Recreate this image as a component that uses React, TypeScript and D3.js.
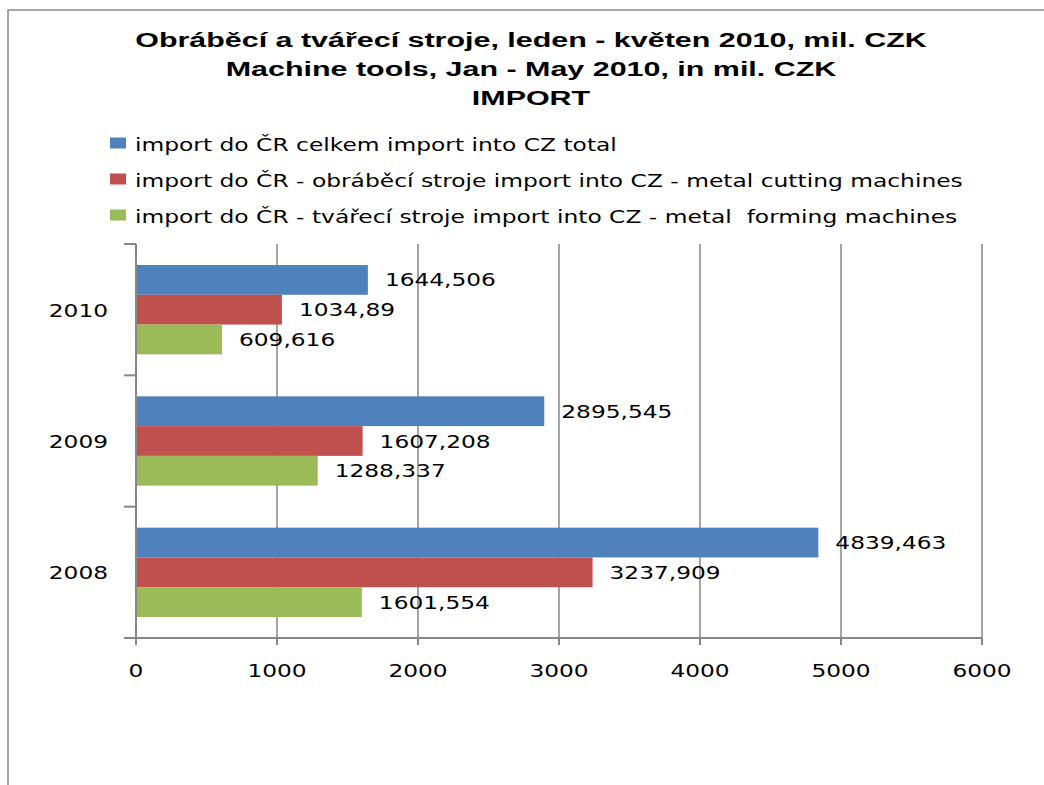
import React, { useEffect, useRef } from 'react';
import * as d3 from 'd3';

const categories = ['2010', '2009', '2008'];
const seriesNames = [
  'import do ČR celkem import into CZ total',
  'import do ČR - obráběcí stroje import into CZ - metal cutting machines',
  'import do ČR - tvářecí stroje import into CZ - metal  forming machines',
];
const seriesColors = ['#4F81BD', '#C0504D', '#9BBB59'];
// values per series, in category order (2010, 2009, 2008)
const totalImport = [1644.506, 2895.545, 4839.463];
const cuttingImport = [1034.89, 1607.208, 3237.909];
const formingImport = [609.616, 1288.337, 1601.554];
const seriesValues = [totalImport, cuttingImport, formingImport];
const xTicks = [0, 1000, 2000, 3000, 4000, 5000, 6000];
const titleLines = [
  'Obráběcí a tvářecí stroje, leden - květen 2010, mil. CZK',
  'Machine tools, Jan - May 2010, in mil. CZK',
  'IMPORT',
];

const fmt = (v: number) => String(v).replace('.', ',');

const App = () => {
  const ref = useRef<SVGSVGElement | null>(null);

  useEffect(() => {
    drawChart();
  }, []);

  const drawChart = () => {
    const svg = d3.select(ref.current);
    svg.selectAll('*').remove();

    const W = 1044;
    const H = 785;
    const left = 136;
    const right = 982;
    const top = 244;
    const bottom = 638;
    const sx = 1.37; // horizontal stretch of the original text
    const font = 'DejaVu Sans, Verdana, sans-serif';
    const grey = '#878787';

    svg.append('rect').attr('width', W).attr('height', H).attr('fill', '#fff');

    // outer frame (top and left edges visible)
    svg.append('path')
      .attr('d', `M8,${H} L8,10 L${W},10`)
      .attr('fill', 'none')
      .attr('stroke', '#8a8a8a')
      .attr('stroke-width', 1.5);

    const text = (
      g: d3.Selection<any, any, any, any>,
      x: number,
      y: number,
      s: string,
      anchor: string,
      size: number,
      family = font,
      weight = 'normal',
      scale = sx
    ) =>
      g.append('text')
        .attr('transform', `translate(${x},${y}) scale(${scale},1)`)
        .attr('text-anchor', anchor)
        .attr('font-family', family)
        .attr('font-size', size)
        .attr('font-weight', weight)
        .attr('fill', '#000')
        .style('white-space', 'pre')
        .text(s);

    // title
    titleLines.forEach((t, i) => {
      text(svg, 531, 47 + i * 29, t, 'middle', 21, 'Liberation Sans, Arial, sans-serif', 'bold', 1.45);
    });

    // legend
    seriesNames.forEach((name, i) => {
      const cy = 143 + i * 36;
      svg.append('rect')
        .attr('x', 110)
        .attr('y', cy - 5.5)
        .attr('width', 16)
        .attr('height', 11)
        .attr('fill', seriesColors[i]);
      text(svg, 135, cy + 8, name, 'start', 17, font, 'normal', 1.375);
    });

    const x = d3.scaleLinear().domain([0, 6000]).range([left, right]);
    const y = d3
      .scaleBand()
      .domain(categories)
      .range([top, bottom])
      .paddingInner(0.32)
      .paddingOuter(0.16);
    const yInner = d3
      .scaleBand()
      .domain(seriesNames)
      .range([0, y.bandwidth()]);

    // gridlines
    svg.append('g')
      .selectAll('line')
      .data(xTicks.filter((t) => t > 0))
      .enter()
      .append('line')
      .attr('x1', (d) => x(d))
      .attr('x2', (d) => x(d))
      .attr('y1', top)
      .attr('y2', bottom)
      .attr('stroke', grey)
      .attr('stroke-width', 1.5);

    // bars
    seriesValues.forEach((vals, si) => {
      const g = svg.append('g');
      vals.forEach((v, ci) => {
        const by = (y(categories[ci]) || 0) + (yInner(seriesNames[si]) || 0);
        g.append('rect')
          .attr('x', x(0))
          .attr('y', by)
          .attr('width', x(v) - x(0))
          .attr('height', yInner.bandwidth())
          .attr('fill', seriesColors[si]);
        text(g, x(v) + 17, by + yInner.bandwidth() / 2 + 6.5, fmt(v), 'start', 17);
      });
    });

    // y axis
    const yAxis = svg.append('g');
    yAxis.append('line')
      .attr('x1', left).attr('x2', left)
      .attr('y1', top).attr('y2', bottom + 7)
      .attr('stroke', grey).attr('stroke-width', 2);
    const bandEdges = [top, ...categories.map((c) => (y(c) || 0) + y.bandwidth() + (y.step() - y.bandwidth()) / 2)];
    bandEdges.forEach((ey) => {
      yAxis.append('line')
        .attr('x1', left - 12).attr('x2', left)
        .attr('y1', ey).attr('y2', ey)
        .attr('stroke', grey).attr('stroke-width', 2);
    });
    categories.forEach((c) => {
      text(yAxis, 108, (y(c) || 0) + y.bandwidth() / 2 + 7, c, 'end', 17);
    });

    // x axis
    const xAxis = svg.append('g');
    xAxis.append('line')
      .attr('x1', left - 12).attr('x2', right)
      .attr('y1', bottom).attr('y2', bottom)
      .attr('stroke', grey).attr('stroke-width', 2);
    xTicks.forEach((t) => {
      xAxis.append('line')
        .attr('x1', x(t)).attr('x2', x(t))
        .attr('y1', bottom).attr('y2', bottom + 7)
        .attr('stroke', grey).attr('stroke-width', 2);
      text(xAxis, x(t), 677, String(t), 'middle', 17);
    });
  };

  return (
    <svg
      ref={ref}
      width={1044}
      height={785}
      style={{ position: 'absolute', left: 0, top: 0, display: 'block' }}
    />
  );
};

export default App;
